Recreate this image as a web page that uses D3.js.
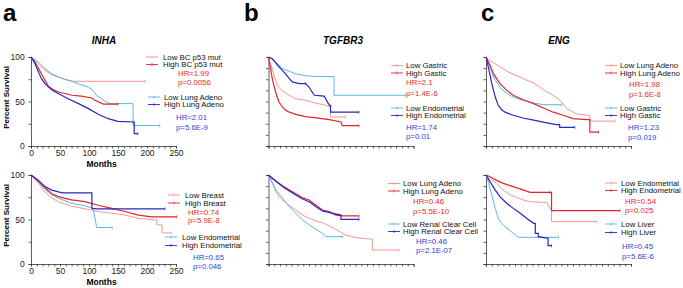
<!DOCTYPE html>
<html>
<head>
<meta charset="utf-8">
<title>KM curves</title>
<script src="https://d3js.org/d3.v7.min.js"></script>
<style>
  body { margin: 0; background: #fff; }
  svg { display: block; }
  text { font-family: Arial, "Liberation Sans", sans-serif; }
</style>
</head>
<body>
<svg id="chart" width="683" height="288"></svg>
<script>
// ---- data: [months, percent survival] ----
const aTopLowBC   = [[0,100],[13,92],[24,85],[36,80],[47,77.5],[59,74.5],[73,72.7],[197,72.7]];
const aTopHighBC  = [[0,100],[6,95],[13,87],[24,74],[30,67],[36,64.4],[47,60.7],[59,59],[70,57],[87,56],[105,54],[110,51.3],[125,47],[150,47]];
const aTopLowLung = [[0,100],[13,94],[24,87],[36,81],[47,77.5],[64,74],[82,70],[99,66],[107,62.5],[113,57],[122,53],[128,50],[136,47.6],[176,47.6],[176,23],[222,23]];
const aTopHighLung= [[0,100],[7,92.5],[13,83],[18,75.7],[24,70],[36,63],[47,59],[64,53],[82,47.6],[99,42],[116,35.6],[133,30.7],[150,27.7],[178,27],[178,14],[184,14]];

const aBotLowBreast = [[0,100],[13,90.6],[24,81],[36,74],[47,70],[70,65],[93,62],[116,59],[139,57],[162,55],[185,51.3],[217,49.4],[217,44],[226,44],[226,35],[242,35]];
const aBotHighBreast= [[0,100],[13,93],[24,86],[36,79],[47,75.7],[70,72],[93,70],[116,66],[139,62.5],[162,59],[185,55],[208,53],[251,53]];
const aBotLowEndo   = [[0,100],[13,92],[24,84],[36,77.5],[47,74],[70,68],[90,66],[107,62.5],[111,49.4],[113,41],[140,41]];
const aBotHighEndo  = [[0,100],[13,94],[24,87],[36,83],[47,81],[55,80],[105,80],[105,62.5],[113,62],[231,62]];

const bTopLowGas  = [[0,100],[7,85],[13,72],[18,65.5],[24,62],[36,57],[47,53],[64,51.3],[82,48],[99,45.7],[105,44],[107,44],[107,32.6],[133,32.6]];
const bTopHighGas = [[0,100],[7,74],[13,59],[18,49.4],[24,44],[30,40],[36,38],[47,35.6],[64,33],[82,31.5],[105,29.6],[125,27],[127,23],[156,23]];
const bTopLowEndo = [[0,100],[13,94],[24,87],[36,84],[47,81],[64,79],[82,78],[113,78],[113,57],[236,57]];
const bTopHighEndo= [[0,100],[7,98],[18,89],[24,85],[30,80.5],[36,75.7],[41,72],[53,70],[64,70],[70,66],[79,57],[96,56],[105,45.7],[107,45.7],[107,38],[156,38]];

const bBotLowLung = [[0,100],[7,90.6],[13,81],[18,75.7],[24,72],[36,65.5],[47,60.7],[59,55],[70,51.3],[82,48.3],[93,46.4],[105,42.7],[116,39],[133,32.6],[150,29.6],[176,28],[179,28],[179,15.7],[225,15.7]];
const bBotHighLung= [[0,100],[7,96],[24,88],[36,83],[47,79],[59,74.5],[70,72],[82,66],[93,60.7],[105,59],[116,55],[128,54],[156,54]];
const bBotLowRenal= [[0,100],[7,90.6],[13,83],[24,74],[36,64.4],[47,57],[59,49.4],[70,44],[82,39],[93,34.5],[99,30.7],[128,30.7]];
const bBotHighRenal=[[0,100],[7,96],[24,87],[36,82],[47,77.5],[59,73],[70,70],[82,64.4],[93,59.6],[105,57.7],[125,55],[125,50.2],[156,50.2]];

const cTopLowLung = [[0,100],[7,96],[24,89],[36,84],[47,80.5],[59,77.5],[70,74],[82,71],[93,66],[105,60.7],[116,57],[128,51.3],[139,42],[156,36],[176,34.5],[179,34.5],[179,28],[222,28]];
const cTopHighLung= [[0,100],[7,90.6],[13,81],[24,70],[36,62.5],[47,57],[64,52],[82,47.6],[99,42.7],[116,38],[133,34.5],[150,30.7],[174,29.6],[179,29.6],[179,15.7],[194,15.7]];
const cTopLowGas  = [[0,100],[7,89],[13,77.5],[24,66],[36,59],[47,55],[64,51.3],[82,48.3],[99,46.4],[130,46.4]];
const cTopHighGas = [[0,100],[4,89],[10,70],[16,55],[21,45.7],[27,40.8],[33,38],[47,34.5],[64,31.5],[82,29],[105,26],[122,24],[127,24],[127,21],[153,21]];

const cBotLowEndo = [[0,100],[7,96],[18,90.6],[30,83],[41,78],[53,74.5],[64,72],[76,70],[105,69],[110,62.5],[113,62.5],[113,47.6],[191,47.6]];
const cBotHighEndo= [[0,100],[7,98],[18,94],[30,90.6],[47,87],[76,80.5],[110,80.5],[113,80.5],[113,60],[231,60]];
const cBotLowLiver= [[0,100],[4,92.5],[10,77.5],[16,62.5],[21,51.3],[27,45.7],[36,40],[47,34.5],[56,30],[125,30]];
const cBotHighLiver=[[0,100],[7,92.5],[16,83],[24,75.7],[36,68],[47,62.5],[59,57],[70,51.3],[82,45.7],[85,45.7],[85,34.5],[90,34.5],[90,30.7],[105,29],[107,29],[107,20.6],[113,20.6]];

// legend text
const legendNames = {
  aTop: ["Low BC p53 mut", "High BC p53 mut", "Low Lung Adeno", "High Lung Adeno"],
  aBot: ["Low Breast", "High Breast", "Low Endometrial", "High Endometrial"],
  bTop: ["Low Gastric", "High Gastic", "Low Endometrial", "High Endometrial"],
  bBot: ["Low Lung Adeno", "High Lung Adeno", "Low Renal Clear Cell", "High Renal Clear Cell"],
  cTop: ["Low Lung Adeno", "High Lung Adeno", "Low Gastric", "High Gastic"],
  cBot: ["Low Endometrial", "High Endometrial", "Low Liver", "High Liver"]
};
const hrLabels = {
  aTop: ["HR=1.99", "p=0.0056", "HR=2.01", "p=5.6E-9"],
  aBot: ["HR=0.74", "p=5.9E-8", "HR=0.65", "p=0.046"],
  bTop: ["HR=2.1", "p=1.4E-6", "HR=1.74", "p=0.01"],
  bBot: ["HR=0.46", "p=5.5E-10", "HR=0.46", "p=2.1E-07"],
  cTop: ["HR=1.98", "p=1.6E-8", "HR=1.23", "p=0.019"],
  cBot: ["HR=0.54", "p=0.025", "HR=0.45", "p=5.6E-6"]
};
const xTickLabels = [0, 50, 100, 150, 200, 250];
const yTickLabels = [0, 50, 100];

const colLow1 = "#f2908c", colHigh1 = "#e5232b", colLow2 = "#4db4ea", colHigh2 = "#2626c4";
const colStat1 = "#ea2a2a", colStat2 = "#2f3fe0";
const LEG_FS = 7.8;

// layout of each panel
const panels = [
  { id: "aTop", x0: 31,    yT: 57,  yB: 146, labels: true,  series: [aTopLowBC, aTopHighBC, aTopLowLung, aTopHighLung],
    leg: [{lx: 146, tx: 163, sx: 178, ys: [57, 64.5, 73, 82]}, {lx: 148, tx: 164, sx: 176, ys: [97, 104.5, 117, 127]}] },
  { id: "aBot", x0: 31,    yT: 175, yB: 264, labels: true,  series: [aBotLowBreast, aBotHighBreast, aBotLowEndo, aBotHighEndo],
    leg: [{lx: 168, tx: 185, sx: 188, ys: [195, 203, 212, 220]}, {lx: 165, tx: 182, sx: 193, ys: [237, 245.5, 257, 266]}] },
  { id: "bTop", x0: 268.5, yT: 57,  yB: 146, labels: false, series: [bTopLowGas, bTopHighGas, bTopLowEndo, bTopHighEndo],
    leg: [{lx: 391, tx: 406, sx: 406, ys: [65.5, 73, 82, 93]}, {lx: 391, tx: 406, sx: 406, ys: [108, 115.5, 127, 136]}] },
  { id: "bBot", x0: 268.5, yT: 175, yB: 264, labels: false, series: [bBotLowLung, bBotHighLung, bBotLowRenal, bBotHighRenal],
    leg: [{lx: 388, tx: 403, sx: 413, ys: [183.5, 191, 201, 211]}, {lx: 388, tx: 403, sx: 416, ys: [224, 231.5, 241, 250]}] },
  { id: "cTop", x0: 486,   yT: 57,  yB: 146, labels: false, series: [cTopLowLung, cTopHighLung, cTopLowGas, cTopHighGas],
    leg: [{lx: 605, tx: 620, sx: 629, ys: [65.5, 73, 84, 94]}, {lx: 605, tx: 620, sx: 628, ys: [108, 115.5, 127, 137]}] },
  { id: "cBot", x0: 486,   yT: 175, yB: 264, labels: false, series: [cBotLowEndo, cBotHighEndo, cBotLowLiver, cBotHighLiver],
    leg: [{lx: 605, tx: 621, sx: 625, ys: [183, 190.5, 201, 210]}, {lx: 605, tx: 621, sx: 622, ys: [224, 232.5, 246, 256]}] }
];
const seriesColors = [colLow1, colHigh1, colLow2, colHigh2];
const statColors = [colStat1, colStat2];

const svg = d3.select("#chart");

// panel letters and gene titles
svg.selectAll("text.letter")
  .data([["a", 3], ["b", 244], ["c", 481]])
  .enter().append("text")
  .attr("class", "letter")
  .attr("x", d => d[1]).attr("y", 21)
  .attr("font-size", 24).attr("font-weight", "bold")
  .text(d => d[0]);

svg.selectAll("text.gene")
  .data([["INHA", 104], ["TGFBR3", 343], ["ENG", 559]])
  .enter().append("text")
  .attr("class", "gene")
  .attr("x", d => d[1]).attr("y", 44)
  .attr("text-anchor", "middle")
  .attr("font-size", 10).attr("font-weight", "bold").attr("font-style", "italic")
  .text(d => d[0]);

panels.forEach(p => {
  const x = d3.scaleLinear().domain([0, 250]).range([p.x0, p.x0 + 145]);
  const y = d3.scaleLinear().domain([0, 100]).range([p.yB, p.yT]);
  const g = svg.append("g");

  // x axis: minor ticks every 10 months
  const xAxis = d3.axisBottom(x)
    .tickValues(d3.range(0, 251, 10))
    .tickSize(2.5)
    .tickFormat(d => (p.labels && xTickLabels.includes(d)) ? d : "");
  const gx = g.append("g").attr("transform", `translate(0,${p.yB})`).call(xAxis);
  gx.selectAll("text").attr("font-size", 8.5).attr("fill", "#222").attr("dy", "0.55em");

  // y axis
  const yAxis = d3.axisLeft(y)
    .tickValues(p.labels ? [0, 25, 50, 75, 100] : d3.range(0, 100.1, 12.5))
    .tickSize(2.5)
    .tickFormat(d => (p.labels && yTickLabels.includes(d)) ? d : "");
  const gy = g.append("g").attr("transform", `translate(${p.x0},0)`).call(yAxis);
  gy.selectAll("text").attr("font-size", 8.5).attr("fill", "#222").attr("dx", "-0.1em");
  g.selectAll(".domain, .tick line").attr("stroke", "#333").attr("stroke-width", 0.8);

  if (p.labels) {
    g.append("text")
      .attr("transform", `translate(9,${(p.yT + p.yB) / 2 - 4}) rotate(-90)`)
      .attr("text-anchor", "middle")
      .attr("font-size", 8).attr("font-weight", "bold")
      .text("Percent Survival");
    g.append("text")
      .attr("x", x(125) - 2).attr("y", p.yB + 21)
      .attr("text-anchor", "middle")
      .attr("font-size", 8.5).attr("font-weight", "bold")
      .text("Months");
  }

  // survival curves
  const line = d3.line().x(d => x(d[0])).y(d => y(d[1]));
  const order = [0, 2, 1, 3];
  order.forEach(i => {
    const s = p.series[i];
    g.append("path")
      .datum(s)
      .attr("d", line)
      .attr("fill", "none")
      .attr("stroke", seriesColors[i])
      .attr("stroke-width", i % 2 ? 1.2 : 0.95);
    // censor marks on flat stretches
    const marks = s.filter((d, k) => k > 0 && !(s[k + 1] && s[k + 1][0] === d[0]) && (k === s.length - 1 || s[k - 1][1] === d[1]));
    g.selectAll(null).data(marks).enter().append("line")
      .attr("x1", d => x(d[0])).attr("x2", d => x(d[0]))
      .attr("y1", d => y(d[1]) - 1.5).attr("y2", d => y(d[1]) + 1.5)
      .attr("stroke", seriesColors[i]).attr("stroke-width", 0.7);
  });

  // legend
  p.leg.forEach((L, gi) => {
    [0, 1].forEach(r => {
      const si = gi * 2 + r;
      const yy = L.ys[r];
      g.append("line").attr("x1", L.lx).attr("x2", L.lx + 12).attr("y1", yy).attr("y2", yy)
        .attr("stroke", seriesColors[si]).attr("stroke-width", 0.9);
      g.append("line").attr("x1", L.lx + 6).attr("x2", L.lx + 6).attr("y1", yy - 1.5).attr("y2", yy + 1.5)
        .attr("stroke", seriesColors[si]).attr("stroke-width", 0.7);
      g.append("text").attr("x", L.tx).attr("y", yy).attr("dy", "0.35em")
        .attr("font-size", LEG_FS).attr("fill", "#111")
        .text(legendNames[p.id][si]);
    });
    [2, 3].forEach(r => {
      g.append("text").attr("x", L.sx).attr("y", L.ys[r]).attr("dy", "0.35em")
        .attr("font-size", LEG_FS).attr("fill", statColors[gi])
        .text(hrLabels[p.id][gi * 2 + r - 2]);
    });
  });
});
</script>
</body>
</html>
